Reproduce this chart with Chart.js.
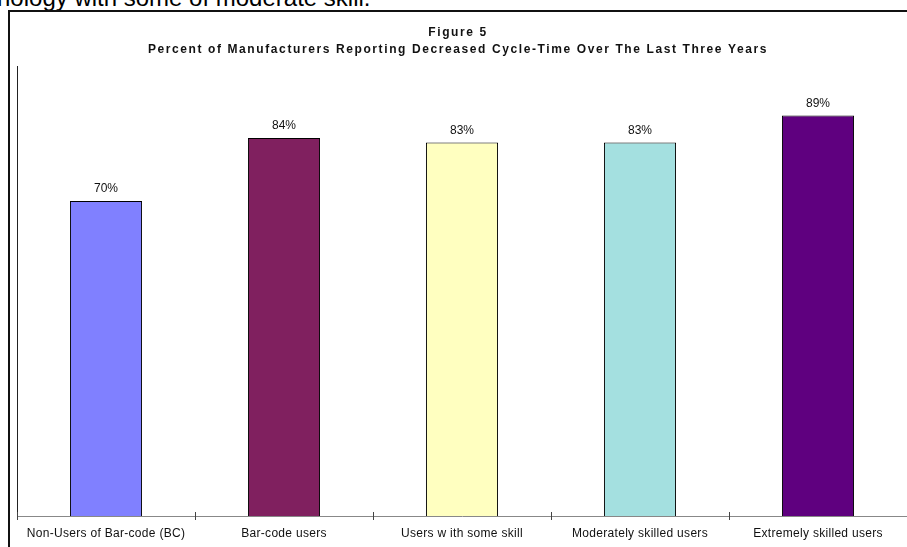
<!DOCTYPE html>
<html>
<head>
<meta charset="utf-8">
<script src="https://cdn.jsdelivr.net/npm/chart.js@4"></script>
<style>
  html, body { margin: 0; padding: 0; background: #fff; overflow: hidden; width: 907px; height: 547px; }
  #lead { position: absolute; left: -3px; top: -16px; font: 24px "Liberation Sans", Arial, sans-serif; color: #000; white-space: nowrap; }
  #frame { position: absolute; left: 8px; top: 10px; width: 960px; height: 600px; border-left: 2px solid #111; border-top: 2px solid #111; }
  #fig5 { position: absolute; left: 0; top: 0; }
</style>
</head>
<body>
<div id="lead">nology with some of moderate skill.</div>
<div id="frame">
  <canvas id="fig5" width="897" height="535"></canvas>
</div>
<script>
/* --------------- Figure 5 data --------------------- */
const figTitle = "Figure 5";
const figSubtitle = "Percent of Manufacturers Reporting Decreased Cycle-Time Over The Last Three Years";
const groups = [
  "Non-Users of Bar-code (BC)",
  "Bar-code users",
  "Users w ith some skill",
  "Moderately skilled users",
  "Extremely skilled users",
];
const pctDecreased = [70, 84, 83, 83, 89];
const barColors = ["#8080FF", "#80205F", "#FFFFC0", "#A4E0E0", "#5F007F"];

const FONT = "'Liberation Sans', Arial, sans-serif";

/* --------------- spaced-out text, heading, value labels, axis ticks --------------------- */
const figText = {
  id: "figText",
  beforeDraw(chart) {
    chart.ctx.letterSpacing = "0.3px";
  },
  afterDraw(chart) {
    const ctx = chart.ctx;
    const area = chart.chartArea;
    const meta = chart.getDatasetMeta(0);
    ctx.save();

    // tick marks between categories, crossing the x axis
    ctx.strokeStyle = "#444";
    ctx.lineWidth = 1;
    const step = (area.right - area.left) / groups.length;
    ctx.beginPath();
    for (let i = 0; i <= groups.length; i++) {
      const x = Math.round(area.left + i * step) + 0.5;
      ctx.moveTo(x, area.bottom - 4);
      ctx.lineTo(x, area.bottom + 4);
    }
    ctx.stroke();

    ctx.fillStyle = "#111";
    ctx.textAlign = "center";
    ctx.textBaseline = "middle";
    // value above each bar
    ctx.letterSpacing = "0px";
    ctx.font = "12px " + FONT;
    meta.data.forEach((bar, i) => {
      ctx.fillText(pctDecreased[i] + "%", bar.x, bar.y - 12);
    });
    // heading, centred on the plot
    const cx = (area.left + area.right) / 2 - 4;
    ctx.letterSpacing = "1.6px";
    ctx.font = "bold 12px " + FONT;
    ctx.fillText(figTitle, cx, 21);
    ctx.fillText(figSubtitle, cx, 38);
    ctx.restore();
    ctx.letterSpacing = "0px";
  },
};

const fig5 = new Chart(document.getElementById("fig5"), {
  type: "bar",
  plugins: [figText],
  data: {
    labels: groups,
    datasets: [
      {
        data: pctDecreased,
        backgroundColor: barColors,
        borderColor: "#000",
        borderWidth: 1,
        barPercentage: 0.405,
        categoryPercentage: 1,
      },
    ],
  },
  options: {
    responsive: false,
    animation: false,
    layout: { padding: { top: 54, left: 0, right: 0, bottom: 0 } },
    plugins: {
      legend: { display: false },
      tooltip: { enabled: false },
      title: { display: false },
    },
    scales: {
      x: {
        grid: { display: false, offset: true },
        border: { display: true, color: "#888", width: 1 },
        ticks: {
          color: "#111",
          padding: 2,
          maxRotation: 0,
          autoSkip: false,
          font: { family: FONT, size: 12 },
        },
        afterFit: (scale) => { scale.height = 31; },
      },
      y: {
        min: 0,
        max: 100,
        grid: { display: false },
        border: { display: true, color: "#222", width: 1 },
        ticks: { display: false },
        afterFit: (scale) => { scale.width = 7; },
      },
    },
  },
});
</script>
</body>
</html>
